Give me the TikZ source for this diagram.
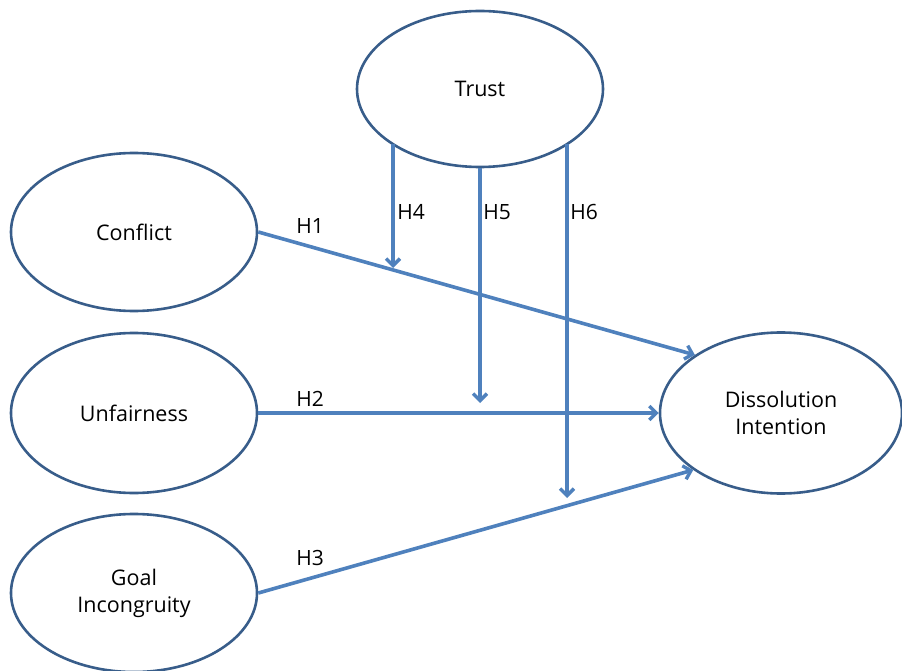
\documentclass[tikz,border=0pt]{standalone}
\usepackage{fontspec}
\setmainfont{Open Sans}
\usetikzlibrary{arrows.meta,shapes.geometric}
\definecolor{edgeblue}{RGB}{56,93,138}
\definecolor{arrowblue}{RGB}{79,129,189}
\begin{document}
\begin{tikzpicture}[x=1pt,y=-1pt,
  construct/.style={ellipse, draw=edgeblue, line width=2.6pt, minimum width=246pt, minimum height=158pt, inner sep=0pt, align=center, font=\fontsize{21.5}{27}\selectfont},
  path/.style={draw=arrowblue, line width=3.6pt, -{Straight Barb[length=7pt,width=14pt,line width=3.4pt]}},
  hlabel/.style={font=\fontsize{21}{24}\selectfont, inner sep=0pt}]
\useasboundingbox (0,0) rectangle (902,671);
\node[construct, minimum height=156pt] (trust) at (480,89) {Trust};
\node[construct] (conflict) at (134,232) {Conflict};
\node[construct, minimum height=160pt] (unfair) at (134,413) {Unfairness};
\node[construct] (goal) at (134,593) {Goal\\Incongruity};
\node[construct, minimum width=242pt, minimum height=161pt] (diss) at (781,413) {Dissolution\\Intention};
\coordinate (h4s) at (393,144);
\coordinate (h6s) at (567,144);
\coordinate (h4e) at (393,268);
\coordinate (h5e) at (480,403);
\coordinate (h6e) at (567,498);
\draw[path] (conflict.east) -- (diss.146);
\draw[path] (unfair.east) -- (diss.west);
\draw[path] (goal.east) -- (diss.213);
\draw[path] (h4s) -- (h4e);
\draw[path] (trust.south) -- (h5e);
\draw[path] (h6s) -- (h6e);
\node[hlabel] (l1) at (310,226) {H1};
\node[hlabel] (l2) at (310,399) {H2};
\node[hlabel] (l3) at (310,558) {H3};
\node[hlabel] (l4) at (411,212) {H4};
\node[hlabel] (l5) at (497,212) {H5};
\node[hlabel] (l6) at (584,212) {H6};
\end{tikzpicture}
\end{document}
